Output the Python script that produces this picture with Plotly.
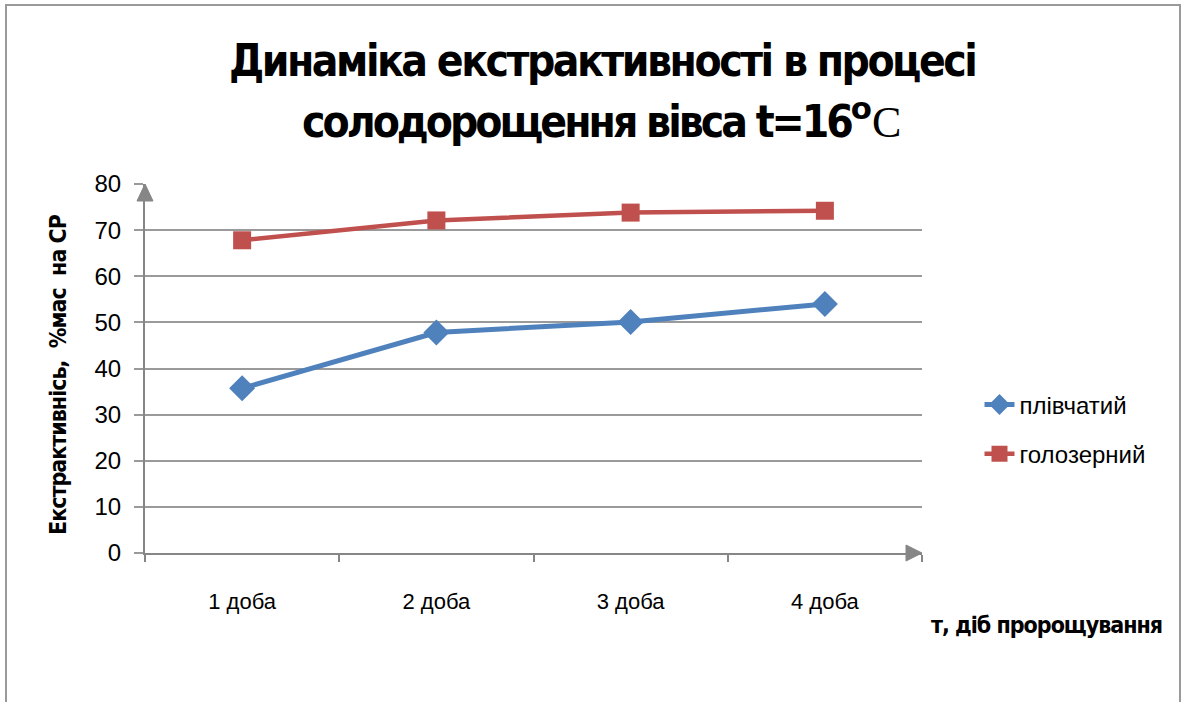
import plotly.graph_objects as go

# Germination days and extractivity values (% mass on dry matter)
days = ["1 доба", "2 доба", "3 доба", "4 доба"]
hulled = [35.7, 47.8, 50.1, 54.0]       # плівчатий
naked = [67.8, 72.1, 73.8, 74.2]        # голозерний

y_ticks = [0, 10, 20, 30, 40, 50, 60, 70, 80]

BLUE = "#4F81BD"
RED = "#C0504D"
AXIS = "#868686"
GRID = "#9a9a9a"
COND = "DejaVu Sans, sans-serif"
SANS = "Liberation Sans, Arial, sans-serif"


def narrow(text, spacing=-1):
    return ("<span style='font-stretch:condensed;letter-spacing:%spx'>%s</span>"
            % (spacing, text))


fig = go.Figure()

fig.add_trace(go.Scatter(
    x=days, y=hulled, name="плівчатий", mode="lines+markers",
    line=dict(color=BLUE, width=5),
    marker=dict(symbol="diamond", size=20, color=BLUE),
    legendgroup="a",
))
fig.add_trace(go.Scatter(
    x=days, y=naked, name="голозерний", mode="lines+markers",
    line=dict(color=RED, width=4.5),
    marker=dict(symbol="square", size=18, color=RED),
    legendgroup="b",
))

fig.update_layout(
    width=1181, height=702,
    margin=dict(l=145, r=259, t=184, b=149, autoexpand=False),
    paper_bgcolor="white", plot_bgcolor="white",
    showlegend=True,
    legend=dict(
        x=1.074, xanchor="left", y=0.335, yanchor="middle",
        font=dict(family=SANS, size=24, color="black"),
        tracegroupgap=15, bgcolor="rgba(0,0,0,0)",
    ),
)

fig.update_xaxes(
    type="category", categoryorder="array", categoryarray=days,
    range=[-0.5, 3.5], tickson="boundaries",
    showline=True, linecolor=AXIS, linewidth=2,
    ticks="outside", ticklen=7, tickcolor=AXIS, tickwidth=1.5,
    showgrid=False, zeroline=False,
    ticklabelstandoff=28,
    tickfont=dict(family=SANS, size=22, color="black"),
)

fig.update_yaxes(
    range=[0, 80], tickvals=y_ticks,
    showline=True, linecolor=AXIS, linewidth=2,
    ticks="outside", ticklen=9, tickcolor=GRID, tickwidth=1.5,
    showgrid=True, gridcolor=GRID, gridwidth=1.5,
    zeroline=False,
    tickfont=dict(family=SANS, size=24, color="black"),
    ticklabelstandoff=8,
)

# Chart title, two lines
fig.add_annotation(
    text="<b>" + narrow("Динаміка екстрактивності в процесі", -2.5) + "</b>",
    xref="paper", yref="paper", x=0.588, y=1.335,
    xanchor="center", yanchor="middle", showarrow=False,
    font=dict(family=COND, size=44, color="black"),
)
fig.add_annotation(
    text="<b>" + narrow("солодорощення вівса t=16", -3) + "<sup>o</sup></b>"
         "<span style='font-family:Liberation Serif, Times New Roman, serif'>C</span>",
    xref="paper", yref="paper", x=0.588, y=1.178,
    xanchor="center", yanchor="middle", showarrow=False,
    font=dict(family=COND, size=44, color="black"),
)

# Y axis title
fig.add_annotation(
    text="<b>" + narrow("Екстрактивніcь,  %мас  на СР", -1) + "</b>",
    xref="paper", yref="paper", x=-0.112, y=0.485,
    xanchor="center", yanchor="middle", showarrow=False, textangle=-90,
    font=dict(family=COND, size=23, color="black"),
)

# X axis title
fig.add_annotation(
    text="<b>" + narrow("т, діб пророщування", -1) + "</b>",
    xref="paper", yref="paper", x=1.312, y=-0.195,
    xanchor="right", yanchor="middle", showarrow=False,
    font=dict(family=COND, size=23, color="black"),
)

# Axis arrowheads
fig.add_shape(
    type="path", xref="paper", yref="paper",
    xsizemode="pixel", ysizemode="pixel", xanchor=0, yanchor=1,
    path="M -8 -17 L 0 0 L 8 -17 Z",
    fillcolor=AXIS, line=dict(color=AXIS, width=1),
)
fig.add_shape(
    type="path", xref="paper", yref="paper",
    xsizemode="pixel", ysizemode="pixel", xanchor=1, yanchor=0,
    path="M -16 8 L 0 0 L -16 -8 Z",
    fillcolor=AXIS, line=dict(color=AXIS, width=1),
)

# Outer chart frame
fig.add_shape(
    type="rect", xref="paper", yref="paper",
    xsizemode="pixel", ysizemode="pixel", xanchor=0, yanchor=0,
    x0=-139, x1=1035, y0=-170, y1=548,
    line=dict(color="#9a9a9a", width=2), fillcolor="rgba(0,0,0,0)",
    layer="below",
)

fig.write_html("out.html")
